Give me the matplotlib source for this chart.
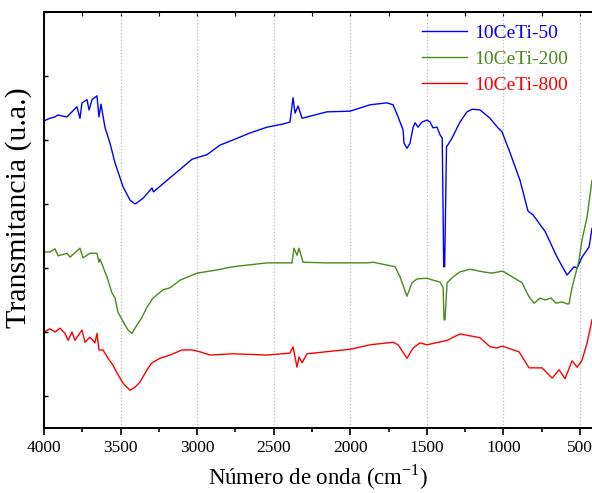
import matplotlib.pyplot as plt
from matplotlib.ticker import MultipleLocator

plt.rcParams['font.family'] = ['Liberation Serif', 'DejaVu Serif']

# wavenumber (cm-1) and transmittance (arbitrary units, offset traces)
wn_50 = [4000, 3960, 3930, 3908, 3850, 3785, 3765, 3752, 3719, 3706, 3686, 3654, 3641, 3628,
         3602, 3569, 3536, 3484, 3438, 3405, 3353, 3295, 3285, 3177, 3092, 3033, 2936, 2851,
         2766, 2655, 2544, 2439, 2394, 2374, 2361, 2341, 2315, 2152, 2002, 1871, 1760, 1721,
         1688, 1656, 1649, 1630, 1610, 1590, 1577, 1558, 1532, 1499, 1479, 1460, 1434, 1414,
         1400, 1390, 1384, 1372, 1336, 1284, 1238, 1205, 1153, 1088, 1036, 1010, 957, 892,
         840, 807, 728, 650, 585, 539, 519, 487, 441, 422]
t_50 = [4.80, 4.84, 4.86, 4.89, 4.86, 5.02, 4.84, 5.08, 5.13, 4.97, 5.13, 5.19, 4.86, 5.06,
        4.70, 4.45, 4.14, 3.77, 3.56, 3.50, 3.59, 3.75, 3.69, 3.91, 4.08, 4.20, 4.27, 4.42,
        4.50, 4.61, 4.70, 4.75, 4.78, 5.16, 4.92, 5.03, 4.84, 4.94, 4.95, 5.05, 5.08, 5.05,
        4.86, 4.66, 4.45, 4.37, 4.45, 4.70, 4.77, 4.70, 4.78, 4.81, 4.78, 4.69, 4.70, 4.58,
        4.53, 2.52, 2.52, 4.39, 4.53, 4.78, 4.94, 4.98, 4.97, 4.84, 4.69, 4.63, 4.30, 3.87,
        3.39, 3.33, 3.07, 2.67, 2.39, 2.52, 2.50, 2.67, 2.83, 3.12]

wn_200 = [4000, 3961, 3928, 3908, 3850, 3830, 3765, 3745, 3700, 3654, 3641, 3634, 3589, 3556,
          3536, 3517, 3471, 3451, 3425, 3393, 3360, 3327, 3288, 3223, 3177, 3112, 3001, 2870,
          2766, 2544, 2394, 2381, 2368, 2348, 2335, 2309, 2152, 1891, 1852, 1708, 1675, 1630,
          1597, 1564, 1499, 1460, 1414, 1394, 1388, 1382, 1368, 1329, 1284, 1218, 1133, 1075,
          1010, 996, 879, 833, 800, 761, 728, 689, 657, 617, 585, 572, 552, 519, 507, 487,
          454, 422]
t_200 = [2.75, 2.75, 2.80, 2.69, 2.73, 2.67, 2.81, 2.66, 2.73, 2.73, 2.59, 2.64, 2.36, 2.11,
         2.03, 1.81, 1.61, 1.53, 1.48, 1.61, 1.73, 1.89, 2.03, 2.16, 2.19, 2.31, 2.42, 2.47,
         2.52, 2.58, 2.58, 2.58, 2.81, 2.70, 2.81, 2.59, 2.58, 2.58, 2.59, 2.52, 2.36, 2.06,
         2.27, 2.33, 2.34, 2.31, 2.28, 2.19, 1.69, 1.69, 2.27, 2.36, 2.44, 2.48, 2.44, 2.42,
         2.45, 2.44, 2.27, 2.05, 1.95, 2.03, 2.00, 2.03, 1.95, 1.97, 1.94, 1.94, 2.20, 2.50,
         2.62, 2.94, 3.30, 3.87]

wn_800 = [4000, 3961, 3928, 3895, 3863, 3843, 3817, 3798, 3752, 3732, 3700, 3667, 3654, 3641,
          3615, 3582, 3549, 3523, 3484, 3438, 3405, 3373, 3327, 3295, 3242, 3177, 3099, 3033,
          2981, 2916, 2766, 2544, 2394, 2374, 2348, 2335, 2315, 2283, 2002, 1871, 1721, 1688,
          1630, 1590, 1545, 1499, 1368, 1284, 1238, 1153, 1088, 1042, 1010, 996, 898, 833,
          748, 682, 637, 598, 552, 519, 487, 454, 422]
t_800 = [1.50, 1.55, 1.50, 1.56, 1.48, 1.37, 1.50, 1.37, 1.53, 1.34, 1.42, 1.33, 1.48, 1.22,
         1.22, 1.09, 0.98, 0.86, 0.70, 0.59, 0.64, 0.72, 0.91, 1.02, 1.09, 1.14, 1.22, 1.22,
         1.19, 1.14, 1.16, 1.14, 1.17, 1.27, 0.95, 1.11, 1.02, 1.16, 1.23, 1.30, 1.34, 1.30,
         1.09, 1.25, 1.33, 1.30, 1.37, 1.47, 1.45, 1.41, 1.27, 1.25, 1.28, 1.27, 1.19, 0.94,
         0.94, 0.78, 0.91, 0.77, 1.05, 0.95, 1.06, 1.33, 1.69]

labels = ["10CeTi-50", "10CeTi-200", "10CeTi-800"]
colors = ["#0000ff", "#4a8a1c", "#ff0000"]

fig = plt.figure(figsize=(5.92, 4.93), dpi=100)
ax = fig.add_axes([0.0743, 0.1318, 0.9257, 0.8439])

for wn, t, lab, c in zip([wn_50, wn_200, wn_800], [t_50, t_200, t_800], labels, colors):
    ax.plot(wn, t, color=c, lw=1.0, label=lab)

ax.set_xlim(4000, 422)
ax.set_ylim(0, 6.5)
ax.xaxis.set_major_locator(MultipleLocator(500))
ax.xaxis.set_minor_locator(MultipleLocator(250))
ax.set_yticks([0.5, 1.5, 2.5, 3.5, 4.5, 5.5, 6.5])
ax.set_yticklabels([])
ax.grid(True, axis='x', ls=':', color='#bbbbbb', lw=0.9)

ax.tick_params(axis='x', which='both', direction='out', top=False, labelsize=12.5, width=1.2)
ax.tick_params(axis='x', which='major', length=5)
ax.tick_params(axis='x', which='minor', length=3)
ax.tick_params(axis='y', direction='in', length=3, width=1)
ax.spines['right'].set_visible(False)
for s in ['left', 'bottom', 'top']:
    ax.spines[s].set_linewidth(1.4)

secx = ax.secondary_xaxis('top')
secx.xaxis.set_major_locator(MultipleLocator(250))
secx.tick_params(direction='in', length=3, labeltop=False)
secx.spines['top'].set_linewidth(1.4)

ax.set_xlabel("Número de onda (cm$^{\\mathregular{-1}}$)", fontsize=16.5, labelpad=5)
ax.set_ylabel("Transmitancia (u.a.)", fontsize=21.5)
ax.yaxis.set_label_coords(-0.022, 0.529)

leg = ax.legend(loc='upper left', frameon=False, fontsize=14, handlelength=2.3,
                handletextpad=0.36, labelspacing=0.43, borderaxespad=0, borderpad=0,
                bbox_to_anchor=(0.69, 0.971))
for txt, c in zip(leg.get_texts(), colors):
    txt.set_color(c)

fig.savefig("out.png", dpi=100)
